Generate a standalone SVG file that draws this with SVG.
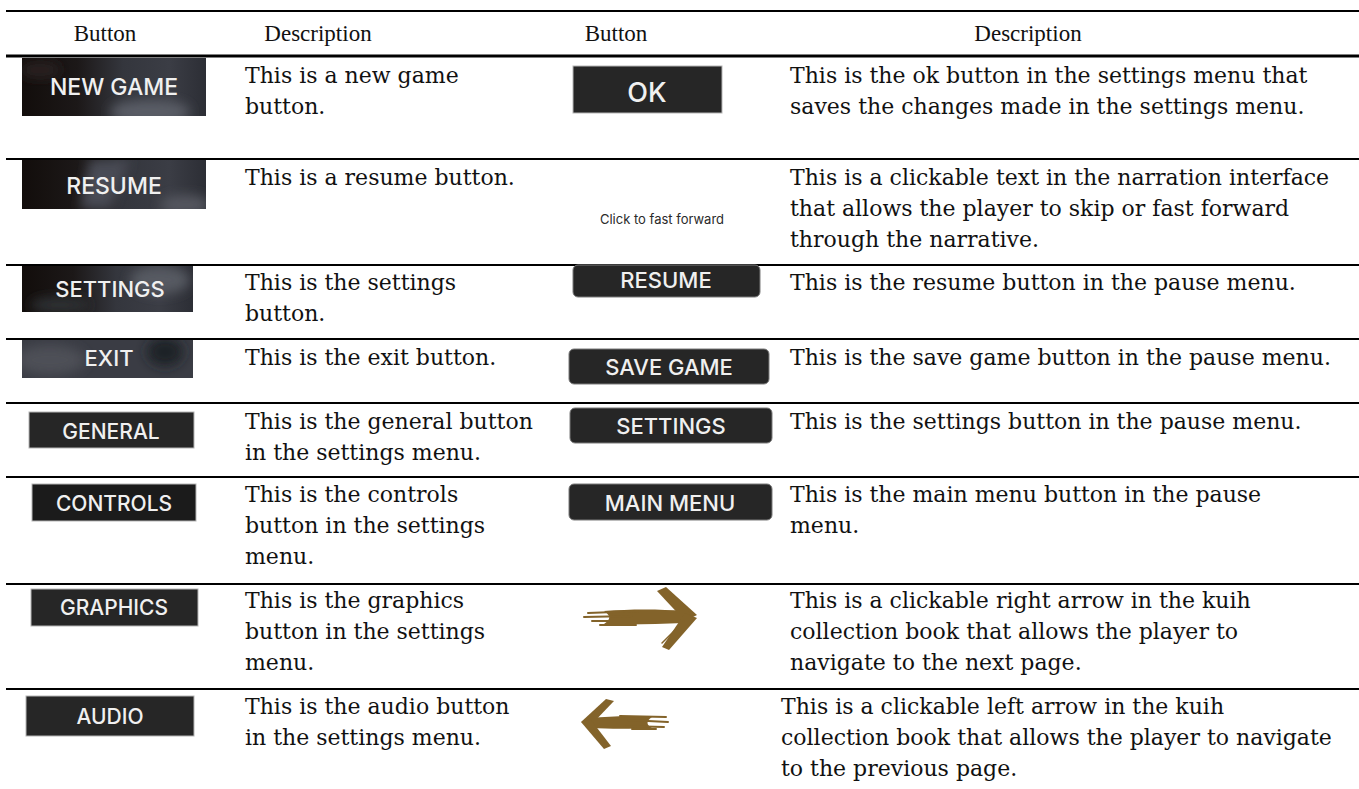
<svg xmlns="http://www.w3.org/2000/svg" width="1359" height="789" viewBox="0 0 1359 789">
  <style>
    .hd{font-family:"Liberation Serif","DejaVu Serif",serif;font-size:23px;fill:#111;text-anchor:middle}
    .tx{font-family:"DejaVu Serif","Liberation Serif",serif;font-size:22px;fill:#111}
    .bt{font-family:Inter,"Open Sans",sans-serif;font-weight:500;fill:#f0f0f0;text-anchor:middle}
    .flat{fill:#262626;stroke:#b5b5b5;stroke-width:1}
    .pill{fill:#262626;stroke:#7a7a7a;stroke-width:1}
    .arrow{fill:#83632a}
    .streak{stroke:#83632a;fill:none;stroke-linecap:round}
  </style>
  <defs>
    <linearGradient id="photo" x1="0" y1="0" x2="1" y2="0">
      <stop offset="0" stop-color="#120d0b"/>
      <stop offset="0.3" stop-color="#1c1818"/>
      <stop offset="0.55" stop-color="#34363d"/>
      <stop offset="0.8" stop-color="#3b3d45"/>
      <stop offset="1" stop-color="#2c2e35"/>
    </linearGradient>
    <filter id="soft" x="-50%" y="-50%" width="200%" height="200%">
      <feGaussianBlur stdDeviation="6"/>
    </filter>
    <clipPath id="c1"><rect x="22" y="58" width="184" height="58"/></clipPath>
    <clipPath id="c2"><rect x="22" y="160" width="184" height="49"/></clipPath>
    <clipPath id="c3"><rect x="22" y="266" width="171" height="46"/></clipPath>
    <clipPath id="c4"><rect x="22" y="340" width="171" height="38"/></clipPath>
  </defs>

  <rect width="1359" height="789" fill="#fff"/>

  <!-- table rules -->
  <g id="rules" stroke="#000">
    <line x1="6" y1="11" x2="1359" y2="11" stroke-width="2"/>
    <line x1="6" y1="56" x2="1359" y2="56" stroke-width="3"/>
    <line x1="6" y1="159" x2="1359" y2="159" stroke-width="2"/>
    <line x1="6" y1="265" x2="1359" y2="265" stroke-width="2"/>
    <line x1="6" y1="339" x2="1359" y2="339" stroke-width="2"/>
    <line x1="6" y1="403" x2="1359" y2="403" stroke-width="2"/>
    <line x1="6" y1="477" x2="1359" y2="477" stroke-width="2"/>
    <line x1="6" y1="584" x2="1359" y2="584" stroke-width="2"/>
    <line x1="6" y1="689" x2="1359" y2="689" stroke-width="2"/>
  </g>

  <!-- header row -->
  <g id="header">
    <text class="hd" x="105" y="41">Button</text>
    <text class="hd" x="318" y="41">Description</text>
    <text class="hd" x="616" y="41">Button</text>
    <text class="hd" x="1028" y="41">Description</text>
  </g>

  <!-- left button column: menu screenshots -->
  <g id="btn-new-game">
    <g clip-path="url(#c1)">
      <rect x="22" y="58" width="184" height="58" fill="url(#photo)"/>
      <ellipse cx="150" cy="112" rx="40" ry="12" fill="#5a5d66" filter="url(#soft)"/>
      <ellipse cx="40" cy="70" rx="20" ry="8" fill="#2a2422" filter="url(#soft)"/>
    </g>
    <text class="bt" x="114" y="95" font-size="23">NEW GAME</text>
  </g>
  <g id="btn-resume">
    <g clip-path="url(#c2)">
      <rect x="22" y="160" width="184" height="49" fill="url(#photo)"/>
      <path d="M90,160 L130,160 L110,209 L80,209 Z" fill="#4a4c55" filter="url(#soft)"/>
      <ellipse cx="185" cy="205" rx="25" ry="10" fill="#54575f" filter="url(#soft)"/>
    </g>
    <text class="bt" x="114" y="194" font-size="23">RESUME</text>
  </g>
  <g id="btn-settings">
    <g clip-path="url(#c3)">
      <rect x="22" y="266" width="171" height="46" fill="url(#photo)"/>
      <ellipse cx="160" cy="280" rx="30" ry="14" fill="#575a62" filter="url(#soft)"/>
      <ellipse cx="60" cy="305" rx="30" ry="8" fill="#2e3036" filter="url(#soft)"/>
    </g>
    <text class="bt" x="110" y="297" font-size="22">SETTINGS</text>
  </g>
  <g id="btn-exit">
    <g clip-path="url(#c4)">
      <rect x="22" y="340" width="171" height="38" fill="#3a3c44"/>
      <ellipse cx="50" cy="360" rx="35" ry="15" fill="#4d4f57" filter="url(#soft)"/>
      <ellipse cx="165" cy="352" rx="18" ry="14" fill="#1f2026" filter="url(#soft)"/>
    </g>
    <text class="bt" x="109" y="366" font-size="22">EXIT</text>
  </g>

  <!-- left button column: settings tabs -->
  <g id="btn-general">
    <rect class="flat" x="29" y="412" width="165" height="36"/>
    <text class="bt" x="111" y="439" font-size="21">GENERAL</text>
  </g>
  <g id="btn-controls">
    <rect class="flat" x="32" y="484" width="164" height="37" style="fill:#1b1b1b"/>
    <text class="bt" x="114" y="511" font-size="21">CONTROLS</text>
  </g>
  <g id="btn-graphics">
    <rect class="flat" x="31" y="589" width="167" height="37"/>
    <text class="bt" x="114" y="615" font-size="21">GRAPHICS</text>
  </g>
  <g id="btn-audio">
    <rect class="flat" x="26" y="696" width="168" height="40"/>
    <text class="bt" x="110" y="724" font-size="21">AUDIO</text>
  </g>

  <!-- right button column -->
  <g id="btn-ok">
    <rect class="flat" x="573" y="66" width="149" height="47"/>
    <text class="bt" x="647" y="102" font-size="27" font-weight="400">OK</text>
  </g>
  <g id="btn-fast-forward">
    <text x="662" y="224" font-family="Inter,'Open Sans',sans-serif" font-size="13" fill="#2a2a2a" text-anchor="middle">Click to fast forward</text>
  </g>
  <g id="btn-pause-resume">
    <rect class="pill" x="573" y="265" width="187" height="32" rx="5"/>
    <text class="bt" x="666" y="288" font-size="22">RESUME</text>
  </g>
  <g id="btn-save-game">
    <rect class="pill" x="569" y="349" width="200" height="35" rx="5"/>
    <text class="bt" x="669" y="375" font-size="22">SAVE GAME</text>
  </g>
  <g id="btn-pause-settings">
    <rect class="pill" x="570" y="408" width="202" height="35" rx="5"/>
    <text class="bt" x="671" y="434" font-size="22">SETTINGS</text>
  </g>
  <g id="btn-main-menu">
    <rect class="pill" x="569" y="484" width="203" height="36" rx="5"/>
    <text class="bt" x="670" y="511" font-size="22">MAIN MENU</text>
  </g>

  <!-- brush-stroke page arrows -->
  <g id="arrow-right">
    <path class="arrow" d="M604,611 C630,609 660,609 684,611 L693,617 L684,623 C657,624 630,625 604,624 C611,619 611,616 604,611 Z"/>
    <path class="streak" stroke-width="2" d="M588,613 L640,611 M584,617 L632,616 M592,621 L640,621 M600,625 L636,625"/>
    <path class="arrow" d="M657,591 L666,587 L697,615 L685,621 Z"/>
    <path class="arrow" d="M685,613 L697,618 L669,650 L662,647 Z"/>
    <path class="streak" stroke-width="1.5" d="M662,643 L684,621 M670,594 L690,612"/>
  </g>
  <g id="arrow-left">
    <path class="arrow" d="M590,718 C612,716 636,716 652,717 C646,721 646,725 652,728 C632,729 610,729 590,728 L584,723 Z"/>
    <path class="streak" stroke-width="2" d="M620,716 L666,717 M628,720 L668,722 M624,726 L664,727 M632,729 L656,729"/>
    <path class="arrow" d="M606,699 L614,701 L591,725 L581,722 Z"/>
    <path class="arrow" d="M581,722 L591,720 L611,746 L604,749 Z"/>
    <path class="streak" stroke-width="1.5" d="M592,728 L606,744"/>
  </g>

  <!-- descriptions, left -->
  <g id="desc-left">
    <text class="tx" x="245" y="83">This is a new game</text>
    <text class="tx" x="245" y="114">button.</text>
    <text class="tx" x="245" y="185">This is a resume button.</text>
    <text class="tx" x="245" y="290">This is the settings</text>
    <text class="tx" x="245" y="321">button.</text>
    <text class="tx" x="245" y="365">This is the exit button.</text>
    <text class="tx" x="245" y="429">This is the general button</text>
    <text class="tx" x="245" y="460">in the settings menu.</text>
    <text class="tx" x="245" y="502">This is the controls</text>
    <text class="tx" x="245" y="533">button in the settings</text>
    <text class="tx" x="245" y="564">menu.</text>
    <text class="tx" x="245" y="608">This is the graphics</text>
    <text class="tx" x="245" y="639">button in the settings</text>
    <text class="tx" x="245" y="670">menu.</text>
    <text class="tx" x="245" y="714">This is the audio button</text>
    <text class="tx" x="245" y="745">in the settings menu.</text>
  </g>

  <!-- descriptions, right -->
  <g id="desc-right">
    <text class="tx" x="790" y="83">This is the ok button in the settings menu that</text>
    <text class="tx" x="790" y="114">saves the changes made in the settings menu.</text>
    <text class="tx" x="790" y="185">This is a clickable text in the narration interface</text>
    <text class="tx" x="790" y="216">that allows the player to skip or fast forward</text>
    <text class="tx" x="790" y="247">through the narrative.</text>
    <text class="tx" x="790" y="290">This is the resume button in the pause menu.</text>
    <text class="tx" x="790" y="365">This is the save game button in the pause menu.</text>
    <text class="tx" x="790" y="429">This is the settings button in the pause menu.</text>
    <text class="tx" x="790" y="502">This is the main menu button in the pause</text>
    <text class="tx" x="790" y="533">menu.</text>
    <text class="tx" x="790" y="608">This is a clickable right arrow in the kuih</text>
    <text class="tx" x="790" y="639">collection book that allows the player to</text>
    <text class="tx" x="790" y="670">navigate to the next page.</text>
    <text class="tx" x="781" y="714">This is a clickable left arrow in the kuih</text>
    <text class="tx" x="781" y="745">collection book that allows the player to navigate</text>
    <text class="tx" x="781" y="776">to the previous page.</text>
  </g>
</svg>
